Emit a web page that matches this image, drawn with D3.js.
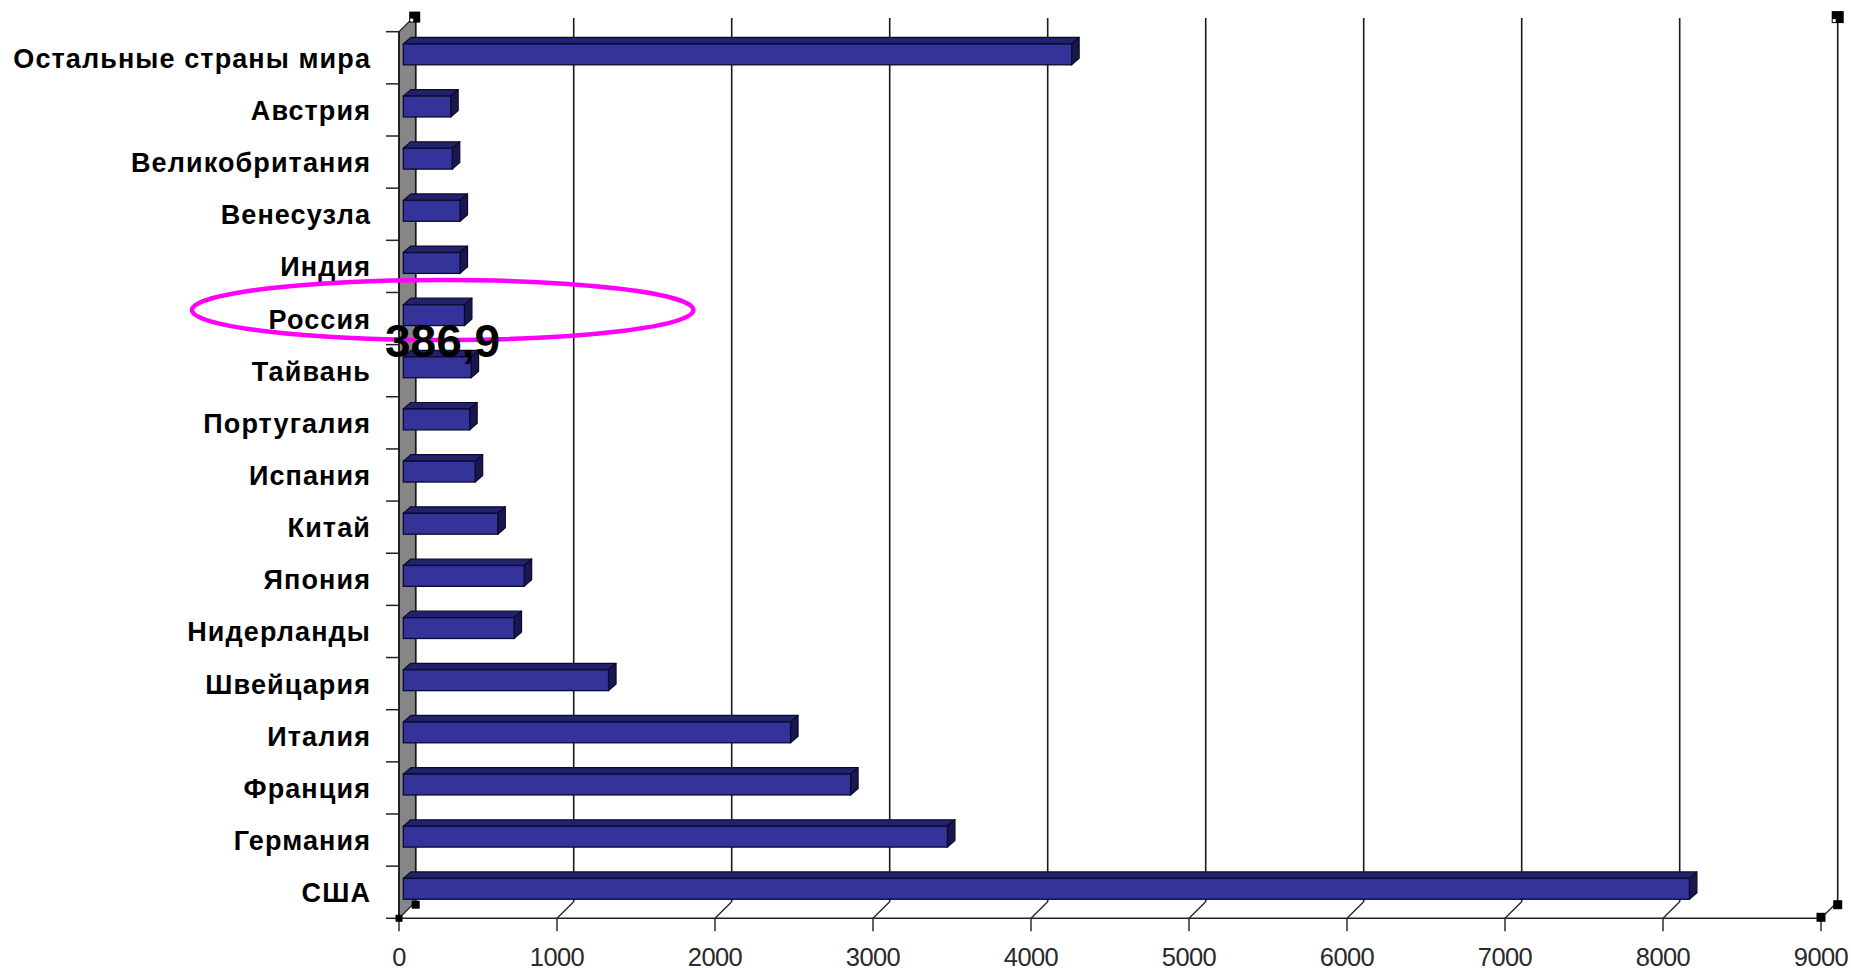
<!DOCTYPE html>
<html>
<head>
<meta charset="utf-8">
<script src="https://cdn.jsdelivr.net/npm/d3@7/dist/d3.min.js"></script>
<style>
  html, body { margin: 0; padding: 0; background: #fff; }
  svg { display: block; }
</style>
</head>
<body>
<svg id="chart" width="1851" height="970"></svg>
<script>
// ---- data ----
const categories = ["Остальные страны мира", "Австрия", "Великобритания", "Венесузла", "Индия",
  "Россия", "Тайвань", "Португалия", "Испания", "Китай", "Япония", "Нидерланды",
  "Швейцария", "Италия", "Франция", "Германия", "США"];
const values = [4230, 300, 310, 359, 359, 386.9, 429, 420, 455, 598, 765, 701,
  1299, 2451, 2831, 3444, 8140];
const xTickValues = [0, 1000, 2000, 3000, 4000, 5000, 6000, 7000, 8000, 9000];
const xTickLabels = ["0", "1000", "2000", "3000", "4000", "5000", "6000", "7000", "8000", "9000"];
const highlightCategory = "Россия";
const highlightText = "386,9";

// ---- layout ----
const svg = d3.select("#chart");
const x = d3.scaleLinear().domain([0, 9000]).range([399, 1821]);
const y = d3.scaleBand().domain(categories).range([31.7, 918.3]).paddingInner(0).paddingOuter(0);
const wallDX = 16.7, wallDY = -16.6;     // depth of the 3-D plot
const barFX = 4.3, barFY = -3.4;         // bar front face offset
const barDX = 7.5, barDY = -6.5;         // bar depth
const barH = y.bandwidth() / 2.5;        // gap width 150%
const yFront = y.range()[1];
const yTop = y.range()[0];
const fontLab = "'Liberation Sans', Arial, sans-serif";

// left wall (gray)
svg.append("path")
  .attr("d", `M${x(0)},${yTop} L${x(0) + wallDX},${yTop + wallDY} L${x(0) + wallDX},${yFront + wallDY} L${x(0)},${yFront} Z`)
  .attr("fill", "#868686").attr("stroke", "#222").attr("stroke-width", 1.2);

// back-wall gridlines
svg.append("g").selectAll("line").data(xTickValues).join("line")
  .attr("x1", d => x(d) + wallDX).attr("x2", d => x(d) + wallDX)
  .attr("y1", yTop + wallDY + 3).attr("y2", yFront + wallDY)
  .attr("stroke", "#1a1a1a").attr("stroke-width", 1.6);

// floor diagonals from front axis ticks to back wall
svg.append("g").selectAll("line").data(xTickValues.slice(1)).join("line")
  .attr("x1", d => x(d)).attr("x2", d => x(d) + wallDX)
  .attr("y1", yFront).attr("y2", yFront + wallDY)
  .attr("stroke", "#222").attr("stroke-width", 1.3);

// front axis line
svg.append("line")
  .attr("x1", x(0)).attr("x2", x(9000)).attr("y1", yFront).attr("y2", yFront)
  .attr("stroke", "#222").attr("stroke-width", 1.5);

// front edge of wall
svg.append("line")
  .attr("x1", x(0)).attr("x2", x(0)).attr("y1", yTop).attr("y2", yFront)
  .attr("stroke", "#111").attr("stroke-width", 1.5);

// x axis ticks and labels
const xa = svg.append("g");
xa.selectAll("line").data(xTickValues).join("line")
  .attr("x1", d => x(d)).attr("x2", d => x(d))
  .attr("y1", yFront).attr("y2", yFront + 13)
  .attr("stroke", "#222").attr("stroke-width", 1.4);
xa.selectAll("text").data(xTickValues).join("text")
  .attr("x", d => x(d)).attr("y", 965.5)
  .attr("text-anchor", "middle")
  .attr("font-family", fontLab).attr("font-size", 25.5)
  .attr("letter-spacing", "-0.6px")
  .attr("fill", "#2a2a2a")
  .text((d, i) => xTickLabels[i]);

// category ticks
const catTicks = d3.range(categories.length + 1).map(i => yTop + i * y.bandwidth());
svg.append("g").selectAll("line").data(catTicks).join("line")
  .attr("x1", x(0) - 13).attr("x2", x(0))
  .attr("y1", d => d).attr("y2", d => d)
  .attr("stroke", "#222").attr("stroke-width", 1.5);

// category labels
svg.append("g").selectAll("text").data(categories).join("text")
  .attr("x", 371).attr("y", d => y(d) + y.bandwidth() / 2 + 10)
  .attr("text-anchor", "end")
  .attr("font-family", fontLab).attr("font-weight", "bold").attr("font-size", 27)
  .attr("letter-spacing", "1.1px")
  .attr("fill", "#000")
  .text(d => d);

// bars (3-D look)
const data = categories.map((c, i) => ({ c, v: values[i] }));
const bars = svg.append("g").selectAll("g").data(data).join("g");
function geom(d) {
  const x0 = x(0) + barFX, x1 = x(d.v) + barFX;
  const yt = y(d.c) + y.bandwidth() / 2 - barH / 2 + barFY;
  const yb = yt + barH;
  return { x0, x1, yt, yb };
}
bars.append("path") // top face
  .attr("d", d => { const g = geom(d);
    return `M${g.x0},${g.yt} L${g.x0 + barDX},${g.yt + barDY} L${g.x1 + barDX},${g.yt + barDY} L${g.x1},${g.yt} Z`; })
  .attr("fill", "#22226a").attr("stroke", "#0a0a30").attr("stroke-width", 1.2).attr("stroke-linejoin", "round");
bars.append("path") // right face
  .attr("d", d => { const g = geom(d);
    return `M${g.x1},${g.yt} L${g.x1 + barDX},${g.yt + barDY} L${g.x1 + barDX},${g.yb + barDY} L${g.x1},${g.yb} Z`; })
  .attr("fill", "#18184c").attr("stroke", "#0a0a30").attr("stroke-width", 1.2).attr("stroke-linejoin", "round");
bars.append("rect") // front face
  .attr("x", d => geom(d).x0).attr("y", d => geom(d).yt)
  .attr("width", d => geom(d).x1 - geom(d).x0).attr("height", barH)
  .attr("fill", "#333399").attr("stroke", "#0a0a30").attr("stroke-width", 1.3);

// selection handles at the wall corners
const handles = [
  [x(0) + wallDX - 1, yTop + wallDY + 2, 11],
  [x(9000) + wallDX, yTop + wallDY + 2, 12],
  [x(9000) + wallDX, yFront + wallDY + 3, 9],
  [x(9000), yFront - 1, 9],
  [x(0) + wallDX, yFront + wallDY + 3, 8],
  [x(0), yFront, 7]
];
svg.append("g").selectAll("rect").data(handles).join("rect")
  .attr("x", d => d[0] - d[2] / 2).attr("y", d => d[1] - d[2] / 2)
  .attr("width", d => d[2]).attr("height", d => d[2])
  .attr("fill", "#000");
svg.append("g").selectAll("rect").data(handles.slice(0, 2)).join("rect")
  .attr("x", d => d[0] - d[2] / 2 + 1).attr("y", d => d[1] + d[2] / 2 - 4)
  .attr("width", 3).attr("height", 3).attr("fill", "#fff");

// highlight ellipse around Россия
const yc = y(highlightCategory) + y.bandwidth() / 2;
svg.append("ellipse")
  .attr("cx", 442.7).attr("cy", yc - 8.5)
  .attr("rx", 250.7).attr("ry", 30)
  .attr("fill", "none").attr("stroke", "#ff00ff").attr("stroke-width", 4.5);

// value label
svg.append("text")
  .attr("x", x(0) - 14).attr("y", yc + 38.2)
  .attr("font-family", fontLab).attr("font-weight", "bold").attr("font-size", 46)
  .attr("fill", "#000")
  .text(highlightText);
</script>
</body>
</html>
